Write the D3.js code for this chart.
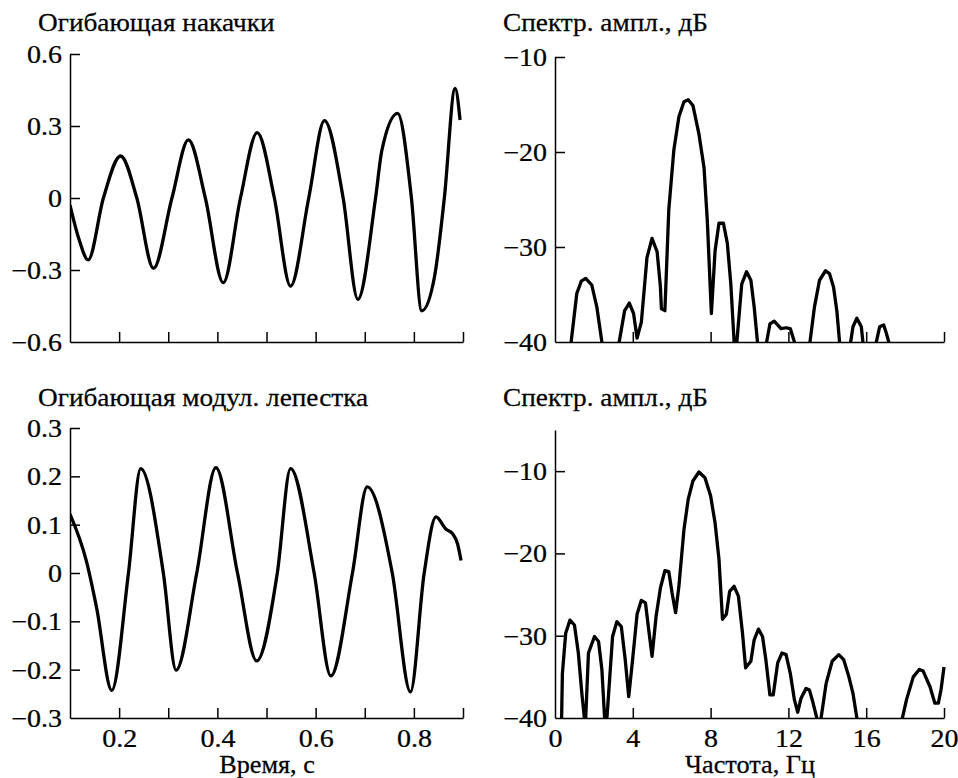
<!DOCTYPE html>
<html>
<head>
<meta charset="utf-8">
<script src="https://cdn.jsdelivr.net/npm/d3@7"></script>
<style>
  body { margin: 0; background: #fff; }
  svg, svg text, svg g { font-family: "Liberation Serif", "DejaVu Serif", serif !important; }
  .axis path, .axis line { stroke: #000; stroke-width: 1.5; }
  .curve { fill: none; stroke: #000; stroke-width: 3.3; stroke-linejoin: round; }
  text { stroke: #000; stroke-width: 0.25; }
</style>
</head>
<body>
<div id="chart"></div>
<script>
// pump envelope (top left)
var pumpT = [0.100, 0.118, 0.137, 0.168, 0.203, 0.236, 0.270, 0.3075, 0.341, 0.3755, 0.412, 0.447,
  0.481, 0.516, 0.549, 0.586, 0.618, 0.656, 0.686, 0.722, 0.735, 0.767, 0.795, 0.816, 0.842, 0.862,
  0.884, 0.894];
var pumpV = [-0.03, -0.17, -0.258, 0.0, 0.175, 0.0, -0.293, 0.0, 0.242, 0.0, -0.353, 0.0,
  0.272, 0.0, -0.367, 0.0, 0.322, 0.0, -0.422, 0.0, 0.20, 0.353, 0.0, -0.47, -0.328, 0.0,
  0.457, 0.325];

// modulation lobe envelope (bottom left)
var lobeT = [0.100, 0.133, 0.154, 0.185, 0.219, 0.244, 0.290, 0.316, 0.358, 0.397, 0.441, 0.480,
  0.522, 0.549, 0.597, 0.631, 0.675, 0.705, 0.756, 0.793, 0.821, 0.845, 0.865, 0.879, 0.889, 0.896];
var lobeV = [0.122, 0.026, -0.071, -0.243, 0.0, 0.216, 0.0, -0.201, 0.0, 0.218, 0.0, -0.182,
  0.0, 0.216, 0.0, -0.213, 0.0, 0.178, 0.0, -0.246, 0.0, 0.116, 0.091, 0.081, 0.060, 0.026];

// spectrum of pump (top right), dB; -44 = below the floor
var specTopF = [0.70, 0.83, 1.12, 1.35, 1.58, 1.89, 2.15, 2.41, 2.50, 3.20, 3.30, 3.58, 3.82, 4.04, 4.22, 4.44,
  4.73, 4.99, 5.25, 5.42, 5.47, 5.65, 5.85, 6.11, 6.37, 6.63, 6.85, 7.09, 7.40, 7.66, 7.83, 8.04, 8.23,
  8.43, 8.66, 8.86, 9.04, 9.21, 9.26, 9.30, 9.35, 9.60, 9.85, 10.07, 10.24, 10.41, 10.50, 10.80, 10.88,
  11.05, 11.27, 11.62, 11.88, 12.10, 12.31, 12.40, 13.00, 13.11, 13.34, 13.60, 13.91, 14.11, 14.32,
  14.49, 14.63, 14.70, 15.10, 15.20, 15.32, 15.52, 15.75, 15.83, 15.90, 16.45, 16.52, 16.69, 16.90,
  17.04, 17.16, 17.25];
var specTopDb = [-44, -40, -34.9, -33.6, -33.3, -34.0, -36.3, -40, -44, -44, -40, -36.7, -35.9, -37.0, -39.6, -37.9,
  -31.1, -29.1, -30.5, -34.2, -36.5, -36.7, -26.1, -19.8, -16.3, -14.7, -14.5, -15.1, -18.1, -21.6, -27.2, -37.0, -30.4,
  -27.5, -27.5, -29.6, -33.9, -40, -44, -44, -40, -33.9, -32.6, -33.5, -36.3, -40, -44, -44, -40,
  -38.1, -37.8, -38.6, -38.5, -38.6, -40, -44, -44, -40, -36.3, -33.5, -32.5, -32.8, -34.2,
  -36.7, -40, -44, -44, -40, -38.4, -37.5, -38.4, -40, -44, -44, -40, -38.4, -38.2,
  -39.1, -40, -44];

// spectrum of lobe (bottom right)
var specBotF = [0.30, 0.34, 0.38, 0.55, 0.77, 1.00, 1.20, 1.38, 1.51, 1.54, 1.58, 1.72, 2.03, 2.24, 2.41, 2.55,
  2.60, 2.67, 2.96, 3.18, 3.41, 3.61, 3.79, 3.99, 4.22, 4.44, 4.65, 4.82, 4.99, 5.20, 5.42, 5.65, 5.85,
  6.02, 6.20, 6.37, 6.63, 6.85, 7.09, 7.40, 7.71, 8.00, 8.23, 8.43, 8.61, 8.81, 8.98, 9.21, 9.43, 9.64,
  9.80, 10.07, 10.24, 10.46, 10.67, 10.84, 11.05, 11.22, 11.45, 11.67, 11.88, 12.10, 12.31, 12.48, 12.65,
  12.91, 13.08, 13.25, 13.46, 13.55, 13.60, 13.68, 13.94, 14.25, 14.59, 14.84, 15.11, 15.32, 15.52, 15.60,
  17.80, 17.86, 18.07, 18.42, 18.73, 18.93, 19.28, 19.53, 19.71, 19.85, 20.0];
var specBotDb = [-44, -40, -34.6, -29.7, -28.1, -28.7, -32.1, -37.0, -40, -42, -40, -32.1, -30.1, -30.7, -34.1, -40,
  -42, -40, -30.1, -28.3, -28.9, -32.9, -37.4, -32.9, -27.4, -25.7, -26.0, -29.3, -32.5, -27.6, -24.2, -22.1, -22.2,
  -24.8, -27.2, -24.0, -17.1, -13.4, -11.2, -10.1, -10.8, -13.0, -16.3, -20.7, -28.0, -27.4, -24.6, -24.0, -25.2, -29.7,
  -33.9, -33.1, -30.5, -29.2, -30.1, -32.9, -37.2, -37.2, -33.3, -32.1, -32.3, -34.6, -37.8, -39.3, -37.6,
  -36.4, -36.6, -38.0, -40, -44, -44, -40, -35.8, -33.1, -32.3, -32.9, -35.0, -37.0, -40, -44,
  -44, -40, -37.8, -35.0, -34.1, -34.3, -36.2, -38.2, -38.2, -36.5, -33.8];

var timeTicks = [0.2, 0.3, 0.4, 0.5, 0.6, 0.7, 0.8, 0.9];
var timeLabels = [0.2, 0.4, 0.6, 0.8];
var freqTicks = [4, 8, 12, 16, 20];
var freqLabels = [0, 4, 8, 12, 16, 20];

var FS = 25, SX = 1.12;       // tick labels
var TFS = 26, TSX = 1.05;     // titles

var svg = d3.select("#chart").append("svg")
    .attr("width", 958)
    .attr("height", 778);

function stretchTicks(g) {
  g.selectAll(".tick text").each(function() {
    var t = d3.select(this);
    var x = +t.attr("x") || 0;
    t.attr("x", 0).attr("transform", "translate(" + x + ",0) scale(" + SX + ",1)");
  });
}

function label(txt, x, y, anchor, size, sx) {
  svg.append("text")
    .attr("transform", "translate(" + x + "," + y + ") scale(" + (sx || TSX) + ",1)")
    .attr("text-anchor", anchor || "start")
    .attr("font-size", (size || TFS) + "px")
    .attr("fill", "#000")
    .text(txt);
}

function panel(o) {
  var x = d3.scaleLinear().domain(o.xDom).range(o.xRange);
  var y = d3.scaleLinear().domain(o.yDom).range(o.yRange);

  var showAll = o.xLabels != null;
  var xVals = showAll ? o.xLabels.concat(o.xTicks).filter(function(v, i, a) { return a.indexOf(v) === i; }) : o.xTicks;
  var xAxis = d3.axisBottom(x)
      .tickValues(xVals)
      .tickSizeInner(-10).tickSizeOuter(0).tickPadding(11)
      .tickFormat(function(d) {
        if (!showAll || o.xLabels.indexOf(d) < 0) return "";
        return o.xFmt(d);
      });
  var gx = svg.append("g").attr("class", "axis")
      .attr("transform", "translate(0," + o.yRange[0] + ")")
      .call(xAxis)
      .attr("font-family", null).attr("font-size", FS);
  // no tick mark at the origin
  gx.selectAll(".tick line").filter(function(d) { return d === o.xDom[0]; }).remove();
  stretchTicks(gx);

  var yAxis = d3.axisLeft(y)
      .tickValues(o.yTicks)
      .tickSizeInner(-10).tickSizeOuter(0).tickPadding(8)
      .tickFormat(o.yFmt);
  var gy = svg.append("g").attr("class", "axis")
      .attr("transform", "translate(" + o.xRange[0] + ",0)")
      .call(yAxis)
      .attr("font-family", null).attr("font-size", FS);
  gy.selectAll(".tick line").filter(function(d) { return d === o.yDom[0]; }).remove();
  gy.selectAll("text").attr("dy", "0.34em");
  stretchTicks(gy);

  var clipId = "clip" + o.id;
  svg.append("clipPath").attr("id", clipId)
    .append("rect")
      .attr("x", o.xRange[0]).attr("y", o.yRange[1] - 20)
      .attr("width", o.xRange[1] - o.xRange[0] + 20)
      .attr("height", o.yRange[0] - o.yRange[1] + 20);

  var pts = o.xs.map(function(v, i) { return [v, o.ys[i]]; });
  var line = d3.line()
      .x(function(d) { return x(d[0]); })
      .y(function(d) { return y(d[1]); })
      .curve(o.curve);

  svg.append("path")
    .datum(pts)
    .attr("class", "curve")
    .attr("clip-path", "url(#" + clipId + ")")
    .attr("d", line);

  label(o.title, o.titleX, o.titleY);
}

var fmt1 = function(d) { return d === 0 ? "0" : d3.format(".1f")(d); };
var fmtInt = function(d) { return d3.format("d")(d); };

panel({ id: "tl", xDom: [0.1, 0.9], xRange: [70, 463], yDom: [-0.6, 0.6], yRange: [342, 54],
  xTicks: timeTicks, xLabels: null, yTicks: [-0.6, -0.3, 0, 0.3, 0.6], yFmt: fmt1,
  xs: pumpT, ys: pumpV, curve: d3.curveMonotoneX,
  title: "Огибающая накачки", titleX: 38, titleY: 31 });

panel({ id: "tr", xDom: [0, 20], xRange: [555, 944], yDom: [-40, -10], yRange: [342, 57],
  xTicks: freqTicks, xLabels: null, yTicks: [-40, -30, -20, -10], yFmt: fmtInt,
  xs: specTopF, ys: specTopDb, curve: d3.curveLinear,
  title: "Спектр. ампл., дБ", titleX: 503, titleY: 31 });

panel({ id: "bl", xDom: [0.1, 0.9], xRange: [70, 463], yDom: [-0.3, 0.3], yRange: [718, 428],
  xTicks: timeTicks, xLabels: timeLabels, xFmt: fmt1, yTicks: [-0.3, -0.2, -0.1, 0, 0.1, 0.2, 0.3], yFmt: fmt1,
  xs: lobeT, ys: lobeV, curve: d3.curveMonotoneX,
  title: "Огибающая модул. лепестка", titleX: 38, titleY: 406 });

panel({ id: "br", xDom: [0, 20], xRange: [555, 944], yDom: [-40, -5], yRange: [718, 430],
  xTicks: freqTicks, xLabels: freqLabels, xFmt: fmtInt, yTicks: [-40, -30, -20, -10], yFmt: fmtInt,
  xs: specBotF, ys: specBotDb, curve: d3.curveLinear,
  title: "Спектр. ампл., дБ", titleX: 503, titleY: 406 });

label("Время, с", 267, 773, "middle", 25, 1.05);
label("Частота, Гц", 750, 773, "middle", 25, 1.05);
</script>
</body>
</html>
